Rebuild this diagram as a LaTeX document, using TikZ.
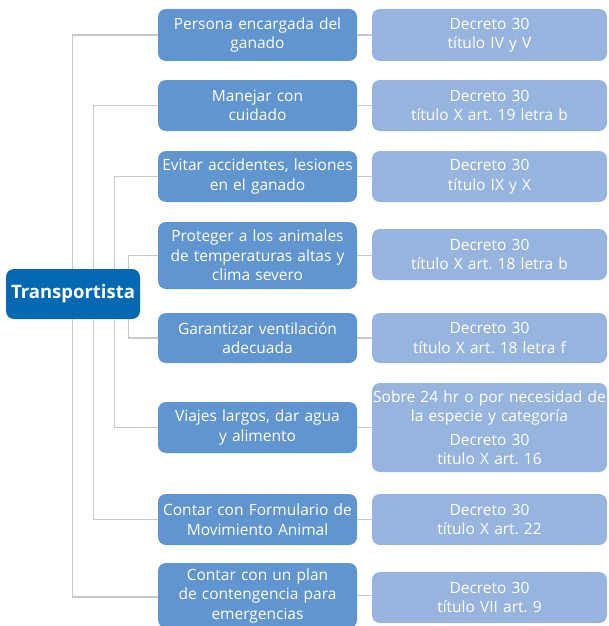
\documentclass[tikz,border=0pt]{standalone}
\usepackage{fontspec}
\setmainfont{Open Sans}
\frenchspacing
\definecolor{darkb}{HTML}{0568B3}
\definecolor{midb}{HTML}{6195CF}
\definecolor{lightb}{HTML}{97B4DF}
\definecolor{linec}{HTML}{C9C9C9}
\begin{document}
\begin{tikzpicture}[x=1pt,y=1pt,
  root/.style={fill=darkb,text=white,rounded corners=8pt,minimum width=134pt,minimum height=50pt,inner sep=0pt,font=\fontsize{18.5}{21}\selectfont\bfseries},
  midbox/.style={fill=midb,text=white,rounded corners=8pt,text width=199pt,inner xsep=0pt,inner ysep=0pt,align=center,font=\fontsize{15.5}{19.5}\selectfont},
  refbox/.style={fill=lightb,text=white,rounded corners=8pt,text width=235pt,inner xsep=0pt,inner ysep=0pt,align=center,font=\fontsize{15.5}{19.5}\selectfont},
  conn/.style={draw=linec,line width=1.2pt}]
\useasboundingbox (0,0) rectangle (608,-626);
\node[root] (T) at (73,-294) {Transportista};
% middle boxes
\node[midbox,minimum height=52pt] (m1) at (257.5,-35) {Persona encargada del\\ganado};
\node[midbox,minimum height=51pt] (m2) at (257.5,-105.5) {Manejar con\\cuidado};
\node[midbox,minimum height=51pt] (m3) at (257.5,-176.5) {Evitar accidentes, lesiones\\en el ganado};
\node[midbox,minimum height=67pt] (m4) at (257.5,-255.5) {Proteger a los animales\\de temperaturas altas y\\clima severo};
\node[midbox,minimum height=50pt] (m5) at (257.5,-338) {Garantizar ventilación\\adecuada};
\node[midbox,minimum height=51pt] (m6) at (257.5,-427.5) {Viajes largos, dar agua\\y alimento};
\node[midbox,minimum height=51pt] (m7) at (257.5,-519.5) {Contar con Formulario de\\Movimiento Animal};
\node[midbox,minimum height=65pt] (m8) at (257.5,-595.5) {Contar con un plan\\de contengencia para\\emergencias};
% reference boxes
\node[refbox,minimum height=52pt] (r1) at (489.5,-35) {Decreto 30\\título IV y V};
\node[refbox,minimum height=51pt] (r2) at (489.5,-105.5) {Decreto 30\\título X art. 19 letra b};
\node[refbox,minimum height=51pt] (r3) at (489.5,-176.5) {Decreto 30\\título IX y X};
\node[refbox,minimum height=51pt] (r4) at (489.5,-254.5) {Decreto 30\\título X art. 18 letra b};
\node[refbox,minimum height=50pt] (r5) at (489.5,-338) {Decreto 30\\título X art. 18 letra f};
\node[refbox,minimum height=89pt] (r6) at (489.5,-427.5) {Sobre 24 hr o por necesidad de\\la especie y categoría\\[4pt]Decreto 30\\titulo X art. 16};
\node[refbox,minimum height=51pt] (r7) at (489.5,-519.5) {Decreto 30\\título X art. 22};
\node[refbox,minimum height=51pt] (r8) at (489.5,-597.5) {Decreto 30\\título VII art. 9};
% tree connectors
\draw[conn] ([xshift=67pt]T.north west) |- (m1.west);
\draw[conn] ([xshift=88pt]T.north west) |- (m2.west);
\draw[conn] ([xshift=109pt]T.north west) |- (m3.west);
\draw[conn] ([xshift=123pt]T.north west) |- (m4.west);
\draw[conn] ([xshift=123pt]T.south west) |- (m5.west);
\draw[conn] ([xshift=109pt]T.south west) |- (m6.west);
\draw[conn] ([xshift=88pt]T.south west) |- (m7.west);
\draw[conn] ([xshift=67pt]T.south west) |- ([yshift=-1.5pt]m8.west);
% links to references
\foreach \i in {1,...,8}{\draw[conn] (m\i.east) -- (m\i.east -| r\i.west);}
\end{tikzpicture}
\end{document}
